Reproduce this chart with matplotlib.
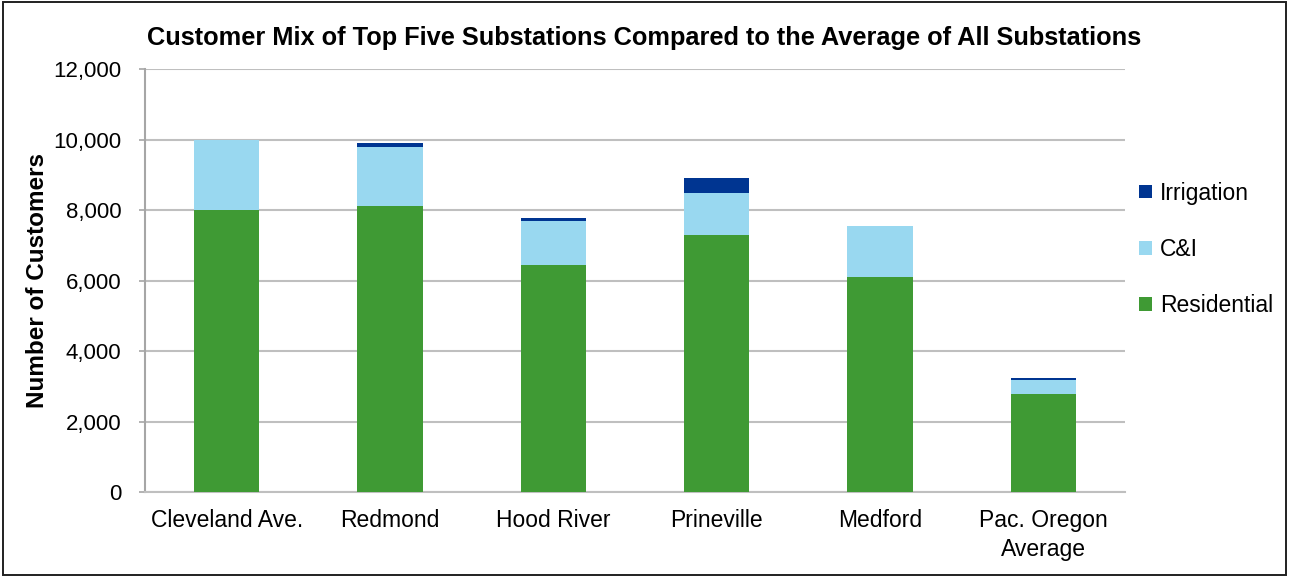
import matplotlib.pyplot as plt
import numpy as np

categories = ["Cleveland Ave.", "Redmond", "Hood River", "Prineville", "Medford", "Pac. Oregon\nAverage"]
residential = [8000, 8100, 6450, 7300, 6100, 2780]
c_and_i = [2000, 1690, 1250, 1180, 1450, 410]
irrigation = [0, 100, 70, 420, 0, 40]

plt.rcParams["font.family"] = ["Liberation Sans", "DejaVu Sans"]

fig = plt.figure(figsize=(12.89, 5.77), dpi=100)
ax = fig.add_axes([0.1125, 0.1473, 0.7603, 0.7331])

x = np.arange(len(categories))
w = 0.4
res = np.array(residential)
ci = np.array(c_and_i)
irr = np.array(irrigation)

ax.bar(x, res, w, color="#3F9A34", label="Residential", zorder=3)
ax.bar(x, ci, w, bottom=res, color="#99D8F0", label="C&I", zorder=3)
ax.bar(x, irr, w, bottom=res + ci, color="#003591", label="Irrigation", zorder=3)

ax.set_xlim(-0.5, len(categories) - 0.5)
ax.set_ylim(0, 12000)
ax.set_yticks(np.arange(0, 12001, 2000))
ax.set_yticklabels([f"{v:,}" for v in range(0, 12001, 2000)])
ax.set_xticks(x)
ax.set_xticklabels(categories, linespacing=1.35)
ax.tick_params(axis="x", labelsize=16.5, length=0, pad=12)
ax.tick_params(axis="y", labelsize=16, length=4, width=1.2, color="#A6A6A6", pad=13)

ax.grid(axis="y", color="#BFBFBF", linewidth=1.5, zorder=0)
for s in ["top", "right"]:
    ax.spines[s].set_visible(False)
ax.spines["left"].set_color("#A6A6A6")
ax.spines["left"].set_linewidth(1.5)
ax.spines["bottom"].set_color("#BFBFBF")
ax.spines["bottom"].set_linewidth(1.5)

ax.set_ylabel("Number of Customers", fontsize=17.5, fontweight="bold")
ax.yaxis.set_label_coords(-0.098, 0.5)
fig.text(0.114, 0.934, "Customer Mix of Top Five Substations Compared to the Average of All Substations",
         ha="left", va="center", fontsize=18.3, fontweight="bold")

handles, labels = ax.get_legend_handles_labels()
leg = fig.legend(handles[::-1], labels[::-1], loc="center left", bbox_to_anchor=(0.868, 0.568),
                 frameon=False, fontsize=16.5, handlelength=0.55, handleheight=0.55,
                 labelspacing=1.45, handletextpad=0.35)

# outer frame
fig.patches.append(plt.Rectangle((0.002, 0.003), 0.996, 0.994, transform=fig.transFigure,
                                 fill=False, edgecolor="#202020", linewidth=1.4))

fig.savefig("out.png", dpi=100)
